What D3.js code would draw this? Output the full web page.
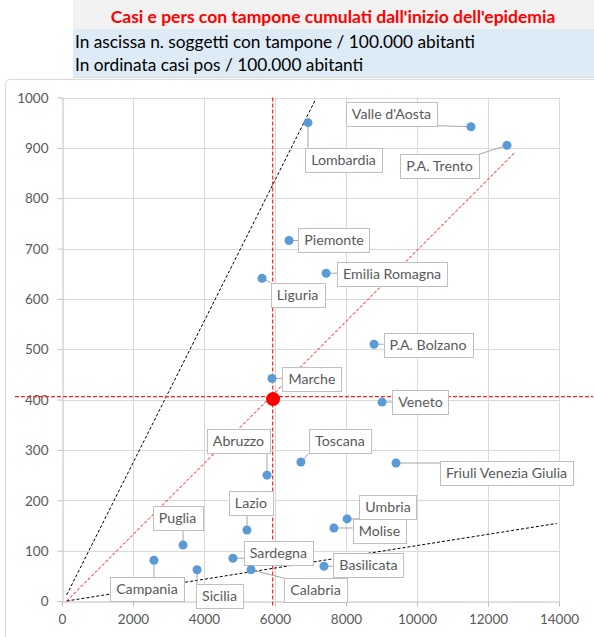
<!DOCTYPE html>
<html lang="it">
<head>
<meta charset="utf-8">
<title>Casi e tamponi</title>
<script src="https://d3js.org/d3.v7.min.js"></script>
<style>
  body { margin: 0; background: #fff; }
  text { font-family: Lato, "Noto Sans", sans-serif; }
</style>
</head>
<body>
<svg id="chart"></svg>
<script>
// regions: tamponi / 100.000 ab (x), casi / 100.000 ab (y)
const regioni = ['Lombardia', "Valle d'Aosta", 'P.A. Trento', 'Piemonte', 'Emilia Romagna', 'Liguria',
  'P.A. Bolzano', 'Marche', 'Veneto', 'Abruzzo', 'Toscana', 'Friuli Venezia Giulia', 'Lazio',
  'Umbria', 'Molise', 'Puglia', 'Sardegna', 'Campania', 'Sicilia', 'Calabria', 'Basilicata'];
const tamponi = [6930, 11520, 12535, 6395, 7440, 5635, 8790, 5915, 9015, 5775, 6730, 9410, 5210,
  8030, 7660, 3410, 4815, 2590, 3805, 5325, 7380];
const casi = [950, 942, 905, 716, 651, 641, 510, 442, 395, 250, 276, 274, 141,
  163, 145, 111, 85, 81, 62, 62, 69];

// Italia (media)
const italia = [5945, 401];

// reference lines [x, y]
const lineaAlta = [[131, 12], [7127, 994]];
const lineaMedia = [[131, 0], [12761, 891]];
const lineaBassa = [[131, 0], [13935, 154]];
const mediaX = 5935, mediaY = 406;

const xTicks = [0, 2000, 4000, 6000, 8000, 10000, 12000, 14000];
const yTicks = [0, 100, 200, 300, 400, 500, 600, 700, 800, 900, 1000];

// label box offsets from the point, px (layout only)
const offsets = [[35.5, 37], [-79.5, -13], [-67.5, 21], [45, 0], [66, 1], [35.5, 16.5],
  [54, 1], [40, 0.5], [38.5, 0], [-28.5, -34], [39, -21], [110.5, 9.5], [4, -27],
  [41, -11.5], [45.5, 3.5], [-5.5, -27], [45.5, -5.5], [-7, 29], [22.5, 26], [64.5, 20.5], [44.5, -1]];

const [width, height] = [594, 637];
const svg = d3.select('#chart').attr('width', width).attr('height', height);

// header
svg.append('rect').attr('x', 73).attr('y', 0).attr('width', width - 73).attr('height', 29).attr('fill', '#f2f2f2');
svg.append('rect').attr('x', 73).attr('y', 29).attr('width', width - 73).attr('height', 48).attr('fill', '#ddebf7');
svg.append('line').attr('x1', 73).attr('x2', width).attr('y1', 77.5).attr('y2', 77.5).attr('stroke', '#d9d9d9');
svg.append('text').text("Casi e pers con tampone cumulati dall'inizio dell'epidemia")
  .attr('x', 333).attr('y', 23).attr('text-anchor', 'middle')
  .attr('fill', '#ff0000').style('font-weight', 'bold').style('font-size', '17.5px');
svg.append('text').text('In ascissa n. soggetti con tampone / 100.000 abitanti')
  .attr('x', 75).attr('y', 48).attr('fill', '#000').style('font-size', '17.3px');
svg.append('text').text('In ordinata casi pos / 100.000 abitanti')
  .attr('x', 75).attr('y', 71).attr('fill', '#000').style('font-size', '17.3px');

// chart frame
svg.append('rect').attr('x', 5.5).attr('y', 79.5).attr('width', 620).attr('height', 600)
  .attr('rx', 4).attr('fill', 'none').attr('stroke', '#d9d9d9');

const x = d3.scaleLinear().domain([0, 14000]).range([62, 559]);
const y = d3.scaleLinear().domain([0, 1000]).range([601, 97.5]);

const grid = svg.append('g').attr('stroke', '#d9d9d9').attr('stroke-width', 1);
grid.selectAll('.v').data(xTicks.slice(1)).enter().append('line')
  .attr('x1', d => Math.round(x(d)) + 0.5).attr('x2', d => Math.round(x(d)) + 0.5)
  .attr('y1', y(1000)).attr('y2', y(0));
grid.selectAll('.h').data(yTicks.slice(1)).enter().append('line')
  .attr('y1', d => Math.round(y(d)) + 0.5).attr('y2', d => Math.round(y(d)) + 0.5)
  .attr('x1', x(0)).attr('x2', x(14000));

// axes
const xAxis = svg.append('g').attr('transform', 'translate(0,' + (Math.round(y(0)) + 0.5) + ')')
  .call(d3.axisBottom(x).tickValues(xTicks).tickFormat(d3.format('d')).tickSize(5).tickPadding(8).tickSizeOuter(0));
const yAxis = svg.append('g').attr('transform', 'translate(' + (Math.round(x(0)) + 0.5) + ',0)')
  .call(d3.axisLeft(y).tickValues(yTicks).tickFormat(d3.format('d')).tickSize(5).tickPadding(9).tickSizeOuter(0));
[xAxis, yAxis].forEach(a => {
  a.select('.domain').attr('stroke', '#bfbfbf');
  a.selectAll('.tick line').attr('stroke', '#bfbfbf');
  a.selectAll('.tick text').attr('fill', '#595959').style('font-size', '13.5px')
    .style('font-family', 'Lato, "Noto Sans", sans-serif');
});
yAxis.selectAll('.tick text').attr('dy', '0.35em');

// reference lines
const line = d3.line().x(d => x(d[0])).y(d => y(d[1]));
svg.append('path').attr('d', line(lineaAlta)).attr('fill', 'none')
  .attr('stroke', '#000').attr('stroke-width', 1).attr('stroke-dasharray', '3,2');
svg.append('path').attr('d', line(lineaBassa)).attr('fill', 'none')
  .attr('stroke', '#000').attr('stroke-width', 1).attr('stroke-dasharray', '3,2');
svg.append('path').attr('d', line(lineaMedia)).attr('fill', 'none')
  .attr('stroke', '#ff0000').attr('stroke-width', 1).attr('stroke-dasharray', '3,2');
svg.append('path').attr('d', line([[mediaX, 1000], [mediaX, -10]])).attr('fill', 'none')
  .attr('stroke', '#ff2020').attr('stroke-width', 1.2).attr('stroke-dasharray', '4,2');
svg.append('path').attr('d', line([[-1325, mediaY], [14960, mediaY]])).attr('fill', 'none')
  .attr('stroke', '#ff2020').attr('stroke-width', 1.2).attr('stroke-dasharray', '4,2');

// labels with leader lines
const data = regioni.map((r, i) => ({ name: r, x: tamponi[i], y: casi[i], off: offsets[i] }));
const lab = svg.append('g');
data.forEach(d => {
  const px = x(d.x), py = y(d.y);
  const g = lab.append('g');
  const t = g.append('text').text(d.name).attr('fill', '#595959').style('font-size', '14.2px')
    .attr('text-anchor', 'middle').attr('dy', '0.35em');
  const w = t.node().getComputedTextLength() + 12, h = 24;
  const cx = px + d.off[0], cy = py + d.off[1];
  const bx = cx - w / 2, by = cy - h / 2;
  // nearest point of the box
  const ex = Math.max(bx, Math.min(px, bx + w)), ey = Math.max(by, Math.min(py, by + h));
  g.insert('line', 'text').attr('x1', px).attr('y1', py).attr('x2', ex).attr('y2', ey)
    .attr('stroke', '#a6a6a6').attr('stroke-width', 1);
  g.insert('rect', 'text').attr('x', Math.round(bx) + 0.5).attr('y', Math.round(by) + 0.5)
    .attr('width', Math.round(w)).attr('height', h)
    .attr('fill', '#fff').attr('stroke', '#bfbfbf');
  t.attr('x', cx).attr('y', cy);
});

// points
svg.append('g').selectAll('circle').data(data).enter().append('circle')
  .attr('cx', d => x(d.x)).attr('cy', d => y(d.y)).attr('r', 4.5).attr('fill', '#5b9bd5');
svg.append('circle').attr('cx', x(italia[0])).attr('cy', y(italia[1])).attr('r', 7).attr('fill', '#ff0000');
</script>
</body>
</html>
